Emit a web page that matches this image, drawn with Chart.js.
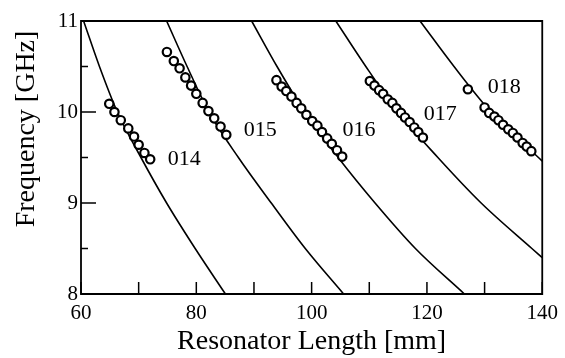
<!DOCTYPE html>
<html>
<head>
<meta charset="utf-8">
<script src="https://cdn.jsdelivr.net/npm/chart.js@4.4.0/dist/chart.umd.min.js"></script>
<style>
  html, body { margin: 0; padding: 0; background: #fff; }
</style>
</head>
<body>
<canvas id="freqChart" width="565" height="358"></canvas>
<script>
// mode names and where their labels sit (mm, GHz)
const modeNames = ['014', '015', '016', '017', '018'];
const labelLength = [77.9, 91.1, 108.2, 122.3, 133.4];
const labelFreq = [9.48, 9.80, 9.80, 9.98, 10.27];

// theory curves: resonator length [mm] read at each frequency [GHz]
const theoryLength014 = [60.45, 63.2, 66.3, 70.4, 74.85, 79.8, 85.05];
const theoryFreq014 = [11.0, 10.5, 10.0, 9.5, 9.0, 8.5, 8.0];
const theoryLength015 = [74.85, 78.4, 82.2, 87.3, 93.0, 98.9, 105.55];
const theoryFreq015 = [11.0, 10.5, 10.0, 9.5, 9.0, 8.5, 8.0];
const theoryLength016 = [89.6, 94.0, 98.8, 104.6, 111.0, 118.0, 126.5];
const theoryFreq016 = [11.0, 10.5, 10.0, 9.5, 9.0, 8.5, 8.0];
const theoryLength017 = [104.2, 109.4, 115.0, 121.9, 129.4, 138.2, 140];
const theoryFreq017 = [11.0, 10.5, 10.0, 9.5, 9.0, 8.5, 8.40];
const theoryLength018 = [118.8, 124.7, 131.1, 140];
const theoryFreq018 = [11.0, 10.5, 10.0, 9.46];

// measured points
const measLength014 = [64.9, 65.8, 66.9, 68.2, 69.2, 70.0, 71.0, 72.0];
const measFreq014 = [10.09, 10.00, 9.91, 9.82, 9.73, 9.64, 9.55, 9.48];
const measLength015 = [74.9, 76.1, 77.1, 78.1, 79.1, 80.0, 81.1, 82.1, 83.1, 84.2, 85.2];
const measFreq015 = [10.66, 10.56, 10.48, 10.38, 10.29, 10.20, 10.10, 10.01, 9.93, 9.84, 9.75];
const measLength016 = [93.9, 94.8, 95.6, 96.5, 97.4, 98.2, 99.1, 100.1, 101.0, 101.8, 102.7, 103.5, 104.4, 105.3];
const measFreq016 = [10.35, 10.28, 10.23, 10.17, 10.10, 10.04, 9.97, 9.90, 9.85, 9.78, 9.71, 9.65, 9.58, 9.51];
const measLength017 = [110.1, 110.9, 111.7, 112.4, 113.2, 114.0, 114.7, 115.5, 116.2, 117.0, 117.8, 118.5, 119.3];
const measFreq017 = [10.34, 10.29, 10.24, 10.20, 10.14, 10.10, 10.04, 9.99, 9.94, 9.89, 9.83, 9.78, 9.72];
const measLength018 = [127.1, 130.0, 130.8, 131.7, 132.4, 133.2, 134.1, 134.9, 135.7, 136.6, 137.3, 138.1];
const measFreq018 = [10.25, 10.05, 9.99, 9.95, 9.91, 9.86, 9.81, 9.77, 9.72, 9.66, 9.62, 9.57];

const serif = '"Liberation Serif", "DejaVu Serif", serif';

function pairs(xs, ys) {
    return xs.map((x, i) => ({ x: x, y: ys[i] }));
}

function curve(xs, ys) {
    return {
        data: pairs(xs, ys),
        showLine: true,
        borderColor: '#000',
        borderWidth: 1.6,
        pointRadius: 0,
        cubicInterpolationMode: 'monotone',
        order: 2
    };
}

function measured(xs, ys) {
    return {
        data: pairs(xs, ys),
        showLine: false,
        pointStyle: 'circle',
        pointRadius: 4.2,
        borderWidth: 2.2,
        borderColor: '#000',
        backgroundColor: '#fff',
        order: 1
    };
}

// frame, inward ticks, mode labels and the y title
const decorations = {
    id: 'decorations',
    afterDatasetsDraw(chart) {
        const c = chart.ctx;
        const a = chart.chartArea;
        const xs = chart.scales.x;
        const ys = chart.scales.y;
        c.save();
        c.setLineDash([]);
        c.globalAlpha = 1;
        c.globalCompositeOperation = 'source-over';
        c.strokeStyle = '#000000';
        c.lineWidth = 1.8;
        c.beginPath();
        c.rect(a.left, a.top, a.right - a.left, a.bottom - a.top);
        c.stroke();
        c.lineWidth = 1.5;
        c.beginPath();
        xs.ticks.forEach(t => {
            const px = xs.getPixelForValue(t.value);
            c.moveTo(px, a.bottom);
            c.lineTo(px, a.bottom - 12);
        });
        ys.ticks.forEach(t => {
            const py = ys.getPixelForValue(t.value);
            const len = Number.isInteger(t.value) ? 15 : 7;
            c.moveTo(a.left, py);
            c.lineTo(a.left + len, py);
        });
        c.stroke();
        c.fillStyle = '#000';
        c.textAlign = 'center';
        c.textBaseline = 'middle';
        c.font = '22px ' + serif;
        modeNames.forEach((name, i) => {
            c.fillText(name, xs.getPixelForValue(labelLength[i]), ys.getPixelForValue(labelFreq[i]));
        });
        c.translate(27, 129);
        c.rotate(-Math.PI / 2);
        c.font = '28px ' + serif;
        c.fillText('Frequency [GHz]', 0, 0);
        c.restore();
    }
};

const ctx = document.getElementById('freqChart').getContext('2d');
const freqChart = new Chart(ctx, {
    type: 'scatter',
    data: {
        datasets: [
            curve(theoryLength014, theoryFreq014),
            curve(theoryLength015, theoryFreq015),
            curve(theoryLength016, theoryFreq016),
            curve(theoryLength017, theoryFreq017),
            curve(theoryLength018, theoryFreq018),
            measured(measLength014, measFreq014),
            measured(measLength015, measFreq015),
            measured(measLength016, measFreq016),
            measured(measLength017, measFreq017),
            measured(measLength018, measFreq018)
        ]
    },
    options: {
        responsive: false,
        animation: false,
        layout: { padding: { left: 0, right: 18, top: 21, bottom: 0 } },
        plugins: { legend: { display: false }, tooltip: { enabled: false } },
        scales: {
            x: {
                type: 'linear',
                min: 60,
                max: 140,
                grid: { display: false, drawTicks: false },
                border: { display: false },
                ticks: {
                    stepSize: 10,
                    autoSkip: false,
                    maxRotation: 0,
                    padding: 7,
                    color: '#000',
                    font: { family: serif, size: 21 },
                    callback: v => (v % 20 === 0 ? v : '')
                },
                title: {
                    display: true,
                    text: 'Resonator Length [mm]',
                    color: '#000',
                    font: { family: serif, size: 28 },
                    padding: { top: 0, bottom: 0 }
                },
                afterFit: scale => { scale.height = 64; }
            },
            y: {
                type: 'linear',
                min: 8,
                max: 11,
                grid: { display: false, drawTicks: false },
                border: { display: false },
                ticks: {
                    stepSize: 0.5,
                    autoSkip: false,
                    padding: 3,
                    color: '#000',
                    font: { family: serif, size: 21 },
                    callback: v => (Number.isInteger(v) ? v : '')
                },
                afterFit: scale => { scale.width = 81; }
            }
        }
    },
    plugins: [decorations]
});
</script>
</body>
</html>
